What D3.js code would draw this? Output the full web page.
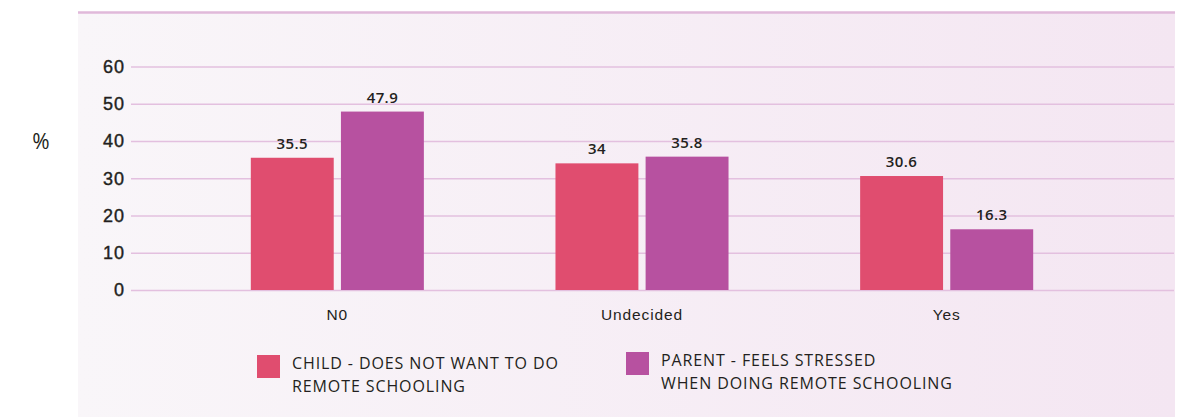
<!DOCTYPE html>
<html>
<head>
<meta charset="utf-8">
<script src="https://cdn.jsdelivr.net/npm/d3@7"></script>
<style>
  html, body { margin: 0; padding: 0; background: #ffffff; }
  svg { display: block; font-family: "Open Sans", "DejaVu Sans", sans-serif; }
</style>
</head>
<body>
<svg id="chart" width="1186" height="417"></svg>
<script>
// Survey answers on remote schooling, % of respondents
const categories = ["N0", "Undecided", "Yes"];
const seriesNames = [
  ["CHILD - DOES NOT WANT TO DO", "REMOTE SCHOOLING"],
  ["PARENT - FEELS STRESSED", "WHEN DOING REMOTE SCHOOLING"]
];
const childValues = [35.5, 34, 30.6];
const parentValues = [47.9, 35.8, 16.3];
const yTicks = [0, 10, 20, 30, 40, 50, 60];
const colors = ["#e04d6f", "#b751a0"];

const svg = d3.select("#chart");

// background panel with soft horizontal gradient
const defs = svg.append("defs");
const grad = defs.append("linearGradient").attr("id", "panelGrad")
  .attr("x1", "0%").attr("x2", "100%").attr("y1", "0%").attr("y2", "0%");
grad.append("stop").attr("offset", "0%").attr("stop-color", "#f9f6f9");
grad.append("stop").attr("offset", "100%").attr("stop-color", "#f4e6f2");

svg.append("rect").attr("x", 78).attr("y", 12).attr("width", 1097).attr("height", 405)
  .attr("fill", "url(#panelGrad)");
svg.append("line").attr("x1", 78).attr("x2", 1175).attr("y1", 12.5).attr("y2", 12.5)
  .attr("stroke", "#e0b9da").attr("stroke-width", 2.5);

const y = d3.scaleLinear().domain([0, 60]).range([290, 66.5]);
const x = d3.scaleBand().domain(categories).range([185, 1099]).paddingInner(0.432).paddingOuter(0.216);
const sub = d3.scaleBand().domain([0, 1]).range([0, x.bandwidth()]).paddingInner(0.08);

// grid lines + y tick labels
const yAxis = d3.axisLeft(y).tickValues(yTicks).tickSize(-1043).tickPadding(6);
const gy = svg.append("g").attr("transform", "translate(131,0)").call(yAxis);
gy.select(".domain").remove();
gy.selectAll(".tick line").attr("stroke", "#e3c0df").attr("stroke-width", 1.5);
gy.selectAll(".tick text").attr("fill", "#231f20").attr("font-size", 18).attr("font-weight", 500)
  .attr("stroke", "#231f20").attr("stroke-width", 0.4)
  .attr("letter-spacing", 1).attr("x", -6);

svg.append("text").attr("x", 41).attr("y", 149).attr("text-anchor", "middle")
  .attr("font-size", 21).attr("fill", "#231f20").text("%");

// x category labels
const xAxis = d3.axisBottom(x).tickSize(0).tickPadding(0);
const gx = svg.append("g").attr("transform", "translate(0,290)").call(xAxis);
gx.select(".domain").remove();
gx.selectAll(".tick text").attr("fill", "#231f20").attr("font-size", 15.5)
  .attr("letter-spacing", 0.9).attr("dy", "0").attr("y", 30);

// bars
const rows = categories.map((c, i) => ({ cat: c, vals: [childValues[i], parentValues[i]] }));
const groups = svg.append("g").selectAll("g").data(rows).join("g")
  .attr("transform", d => `translate(${x(d.cat)},0)`);
groups.selectAll("rect").data(d => d.vals.map((v, k) => ({ v, k }))).join("rect")
  .attr("x", d => sub(d.k)).attr("width", sub.bandwidth())
  .attr("y", d => y(d.v)).attr("height", d => y(0) - y(d.v))
  .attr("fill", d => colors[d.k]);
groups.selectAll("text").data(d => d.vals.map((v, k) => ({ v, k }))).join("text")
  .attr("x", d => sub(d.k) + sub.bandwidth() / 2).attr("y", d => y(d.v) - 9)
  .attr("text-anchor", "middle").attr("font-size", 15).attr("font-weight", 600)
  .attr("letter-spacing", 0.4).attr("fill", "#231f20").text(d => d.v);

// legend
const legendPos = [{ x: 257, y: 355 }, { x: 626, y: 352 }];
seriesNames.forEach((lines, k) => {
  const g = svg.append("g").attr("transform", `translate(${legendPos[k].x},${legendPos[k].y})`);
  g.append("rect").attr("width", 23).attr("height", 23).attr("fill", colors[k]);
  const t = g.append("text").attr("x", 35).attr("y", 14).attr("font-size", 16)
    .attr("font-weight", 500).attr("fill", "#231f20").attr("letter-spacing", 0.9);
  lines.forEach((ln, j) => t.append("tspan").attr("x", 35).attr("dy", j === 0 ? 0 : 23).text(ln));
});
</script>
</body>
</html>
